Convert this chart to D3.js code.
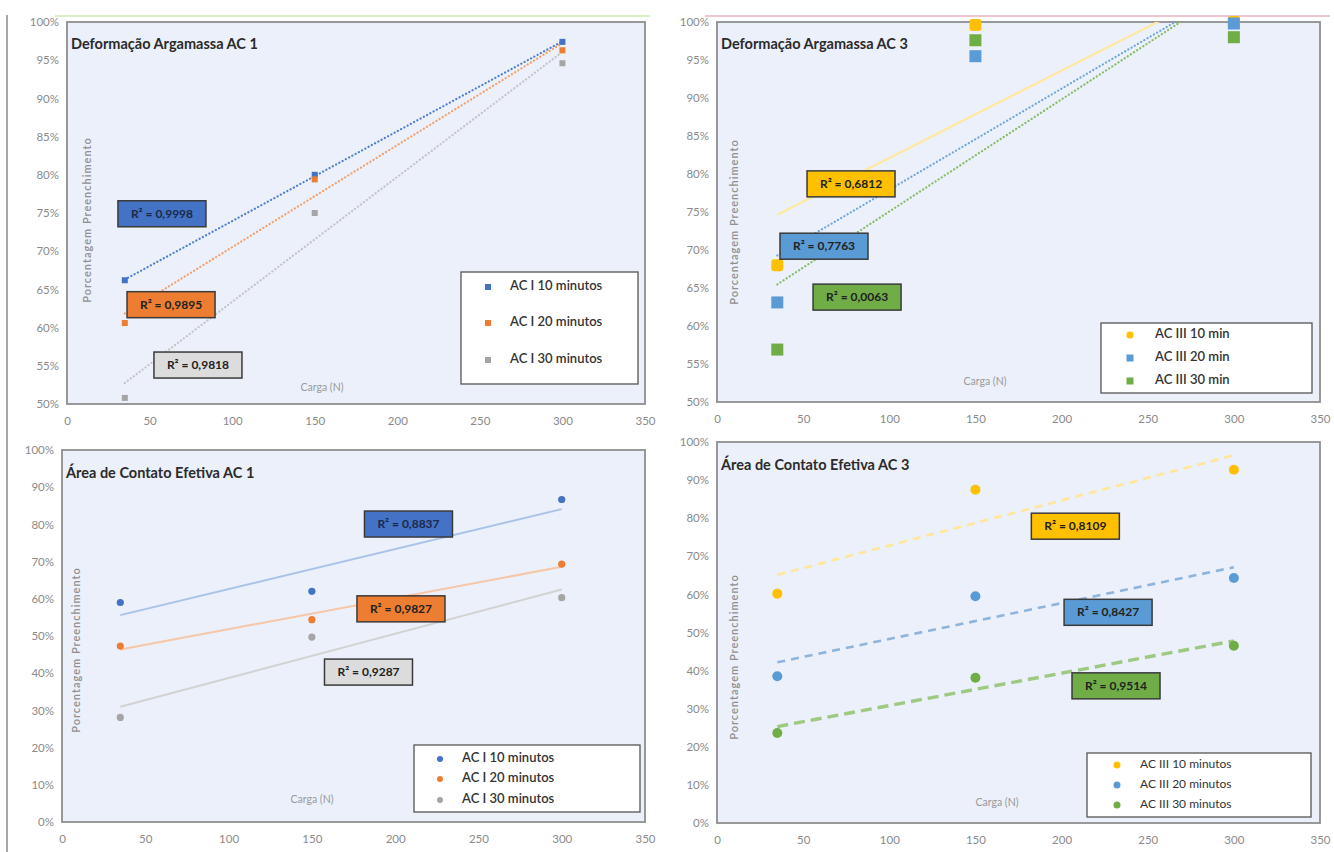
<!DOCTYPE html>
<html><head><meta charset="utf-8">
<script src="https://cdn.jsdelivr.net/npm/d3@7"></script>
<style>
html,body{margin:0;padding:0;background:#fff;}
svg{display:block;font-family:Lato,"Open Sans",sans-serif;}
</style></head>
<body><svg id="c" width="1334" height="852"></svg>
<script>
// ---------------- DATA ----------------
const loads = [35, 150, 300];

const def1Series = ["AC I 10 minutos", "AC I 20 minutos", "AC I 30 minutos"];
const def1_10 = [66.2, 80.0, 97.4];
const def1_20 = [60.6, 79.4, 96.3];
const def1_30 = [50.8, 75.0, 94.6];
const def1R2 = ["0,9998", "0,9895", "0,9818"];

const def3Series = ["AC III 10 min", "AC III 20 min", "AC III 30 min"];
const def3_10 = [68.0, 99.6, 100.0];
const def3_20 = [63.1, 95.5, 99.8];
const def3_30 = [56.9, 97.6, 98.0];
const def3R2 = ["0,6812", "0,7763", "0,0063"];

const area1Series = ["AC I 10 minutos", "AC I 20 minutos", "AC I 30 minutos"];
const area1_10 = [59.0, 62.0, 86.7];
const area1_20 = [47.3, 54.4, 69.3];
const area1_30 = [28.1, 49.7, 60.3];
const area1R2 = ["0,8837", "0,9827", "0,9287"];

const area3Series = ["AC III 10 minutos", "AC III 20 minutos", "AC III 30 minutos"];
const area3_10 = [60.2, 87.5, 92.7];
const area3_20 = [38.5, 59.5, 64.3];
const area3_30 = [23.6, 38.1, 46.5];
const area3R2 = ["0,8109", "0,8427", "0,9514"];

const xTicks = [0, 50, 100, 150, 200, 250, 300, 350];
const yTicksDef = [50, 55, 60, 65, 70, 75, 80, 85, 90, 95, 100];
const yTicksArea = [0, 10, 20, 30, 40, 50, 60, 70, 80, 90, 100];

// ---------------- STYLE / LAYOUT ----------------
const svg = d3.select("#c");

// decorative remnants of the source image
svg.append("line").attr("x1",7).attr("x2",7).attr("y1",15).attr("y2",852).attr("stroke","#8a8a8a").attr("stroke-width",1.5);
svg.append("line").attr("x1",55).attr("x2",650).attr("y1",16).attr("y2",16).attr("stroke","#d9efc6").attr("stroke-width",2);
svg.append("line").attr("x1",705).attr("x2",1330).attr("y1",16).attr("y2",16).attr("stroke","#f2c4cf").attr("stroke-width",2);

const panels = [
  { title:"Deformação Argamassa AC 1", box:[67,645,22,404], yDom:[50,100], yTicks:yTicksDef,
    names:def1Series, series:[def1_10,def1_20,def1_30], r2:def1R2,
    colors:["#4472C4","#ED7D31","#A5A5A5"],
    lineColors:["#4f7fd0","#f2a06a","#c4c4c4"], lineWidths:[2.2,2.2,2.2], dash:["0.1,3.6","0.1,3.6","0.1,3.6"],
    boxFill:["#4472C4","#ED7D31","#DCDCDC"],
    r2Pos:[[57.5,74.9],[63,63],[79.3,55.1]],
    marker:"square", msize:[6,6,6],
    legend:{x:461,y:272,w:177,h:112,mx:488,tx:510,rows:[287,323,360],ms:6},
    yTitle:{x:88,y:220}, xTitle:{x:322,y:388}, titleY:45 },
  { title:"Deformação Argamassa AC 3", box:[717,1320,22,402], yDom:[50,100], yTicks:yTicksDef,
    names:def3Series, series:[def3_10,def3_20,def3_30], r2:def3R2,
    colors:["#FFC000","#5B9BD5","#70AD47"],
    lineColors:["#ffe8a0","#6fa6dc","#86bd64"], lineWidths:[2.2,2.2,2.2], dash:[null,"0.1,3.6","0.1,3.6"],
    boxFill:["#FFC000","#5B9BD5","#70AD47"],
    r2Pos:[[77.8,78.7],[62.1,70.5],[81.3,63.8]],
    marker:"bigsquare", msize:[12,12,12],
    legend:{x:1101,y:323,w:211,h:70,mx:1130,tx:1155,rows:[335,358,381],ms:7},
    yTitle:{x:735,y:222}, xTitle:{x:985,y:382}, titleY:45 },
  { title:"Área de Contato Efetiva AC 1", box:[62,645,450,822], yDom:[0,100], yTicks:yTicksArea,
    names:area1Series, series:[area1_10,area1_20,area1_30], r2:area1R2,
    colors:["#4472C4","#ED7D31","#A5A5A5"],
    lineColors:["#a9c3e8","#f6c6a6","#d2d2d2"], lineWidths:[2,2,2], dash:[null,null,null],
    boxFill:["#4472C4","#ED7D31","#DCDCDC"],
    r2Pos:[[208,80.1],[203.5,57.3],[184,40.3]],
    marker:"circle", msize:[3.6,3.6,3.6],
    legend:{x:414,y:745,w:226,h:67,mx:440,tx:462,rows:[759,779,800],ms:3},
    yTitle:{x:77,y:650}, xTitle:{x:312,y:800}, titleY:474 },
  { title:"Área de Contato Efetiva AC 3", box:[717,1320,442,823], yDom:[0,100], yTicks:yTicksArea,
    names:area3Series, series:[area3_10,area3_20,area3_30], r2:area3R2,
    colors:["#FFC000","#5B9BD5","#70AD47"],
    lineColors:["#ffe699","#8fb4dc","#9dc981"], lineWidths:[2.6,2.6,3.4], dash:["8,6","8,6","11,6"],
    boxFill:["#FFC000","#5B9BD5","#70AD47"],
    r2Pos:[[208,77.9],[227,55.3],[231.6,36]],
    marker:"circle", msize:[5,5,5],
    legend:{x:1087,y:753,w:224,h:64,mx:1117,tx:1140,rows:[765,785,805],ms:3.5},
    yTitle:{x:735,y:657}, xTitle:{x:997,y:803}, titleY:466 }
];

function fit(xs, ys){
  const n = xs.length, mx = d3.mean(xs), my = d3.mean(ys);
  let sxy = 0, sxx = 0;
  for(let i=0;i<n;i++){ sxy += (xs[i]-mx)*(ys[i]-my); sxx += (xs[i]-mx)*(xs[i]-mx); }
  const b = sxy/sxx, a = my - b*mx;
  return x => a + b*x;
}

panels.forEach((p, pi) => {
  const [L,R,T,B] = p.box;
  const x = d3.scaleLinear().domain([0,350]).range([L,R]);
  const y = d3.scaleLinear().domain(p.yDom).range([B,T]);
  const g = svg.append("g");

  g.append("rect").attr("x",L).attr("y",T).attr("width",R-L).attr("height",B-T)
    .attr("fill","#EBF0FA").attr("stroke","#8e8e8e").attr("stroke-width",1.8);

  const clipId = "clip"+pi;
  svg.append("clipPath").attr("id",clipId).append("rect")
    .attr("x",L).attr("y",T).attr("width",R-L).attr("height",B-T);

  // axes
  const ya = g.append("g").attr("transform",`translate(${L},0)`)
    .call(d3.axisLeft(y).tickValues(p.yTicks).tickFormat(d=>d+"%").tickSize(0).tickPadding(8));
  const xa = g.append("g").attr("transform",`translate(0,${B})`)
    .call(d3.axisBottom(x).tickValues(xTicks).tickSize(0).tickPadding(13));
  [ya,xa].forEach(a => {
    a.select(".domain").remove();
    a.selectAll("text").attr("fill","#8a8a8a").style("font-size","11.5px").style("font-family","Lato,sans-serif");
  });

  // title
  g.append("text").attr("x",L+4).attr("y",p.titleY).attr("dominant-baseline","middle")
    .attr("fill","#2b2b2b").style("font-size","14.5px").style("font-weight","700").text(p.title);

  // axis titles
  g.append("text").attr("transform",`translate(${p.yTitle.x},${p.yTitle.y}) rotate(-90)`)
    .attr("text-anchor","middle").attr("dominant-baseline","middle")
    .attr("fill","#8f8f8f").style("font-size","11px").style("font-weight","600").style("letter-spacing","1px").text("Porcentagem  Preenchimento");
  g.append("text").attr("x",p.xTitle.x).attr("y",p.xTitle.y).attr("text-anchor","middle").attr("dominant-baseline","middle")
    .attr("fill","#9a9a9a").style("font-size","10.5px").text("Carga (N)");

  // trendlines
  const tl = g.append("g").attr("clip-path",`url(#${clipId})`);
  p.series.forEach((s, si) => {
    const f = fit(loads, s);
    const x0 = d3.min(loads), x1 = d3.max(loads);
    const ln = tl.append("line").attr("x1",x(x0)).attr("y1",y(f(x0))).attr("x2",x(x1)).attr("y2",y(f(x1)))
      .attr("stroke",p.lineColors[si]).attr("stroke-width",p.lineWidths[si]);
    if(p.dash[si]){
      ln.attr("stroke-dasharray",p.dash[si]);
      if(p.dash[si].startsWith("0.1")) ln.attr("stroke-linecap","round");
    }
  });

  // markers
  p.series.forEach((s, si) => {
    const c = p.colors[si];
    s.forEach((v, i) => {
      const cx = x(loads[i]), cy = y(v);
      if(p.marker === "circle"){
        g.append("circle").attr("cx",cx).attr("cy",cy).attr("r",p.msize[si]).attr("fill",c);
      } else {
        const sz = p.msize[si];
        g.append("rect").attr("x",cx-sz/2).attr("y",cy-sz/2).attr("width",sz).attr("height",sz)
          .attr("rx", (p.marker==="bigsquare" && si===0) ? 3 : 0).attr("fill",c);
      }
    });
  });

  // R² labels
  p.r2.forEach((r, si) => {
    const [dx, dy] = p.r2Pos[si];
    const cx = x(dx), cy = y(dy);
    const w = 88, h = 26;
    g.append("rect").attr("x",cx-w/2).attr("y",cy-h/2).attr("width",w).attr("height",h)
      .attr("fill",p.boxFill[si]).attr("stroke","#3a3a3a").attr("stroke-width",1.5);
    g.append("text").attr("x",cx).attr("y",cy+1).attr("text-anchor","middle").attr("dominant-baseline","middle")
      .attr("fill", si===0 && p.boxFill[si]==="#4472C4" ? "#1b2a4a" : "#222")
      .style("font-size","12px").style("font-weight","700").text("R² = " + r);
  });

  // legend
  const lg = p.legend;
  g.append("rect").attr("x",lg.x).attr("y",lg.y).attr("width",lg.w).attr("height",lg.h)
    .attr("fill","#fff").attr("stroke","#555").attr("stroke-width",1.3);
  p.names.forEach((n, si) => {
    const ry = lg.rows[si];
    if(p.marker === "circle"){
      g.append("circle").attr("cx",lg.mx).attr("cy",ry).attr("r",lg.ms).attr("fill",p.colors[si]);
    } else {
      g.append("rect").attr("x",lg.mx-lg.ms/2).attr("y",ry-lg.ms/2).attr("width",lg.ms).attr("height",lg.ms)
        .attr("rx", (p.marker==="bigsquare" && si===0) ? 3 : 0).attr("fill",p.colors[si]);
    }
    g.append("text").attr("x",lg.tx).attr("y",ry).attr("dominant-baseline","middle")
      .attr("fill","#333").style("font-size", pi===3 ? "12px" : "13px").style("font-weight", pi===3 ? "400" : "600").text(n);
  });
});
</script>
</body></html>
